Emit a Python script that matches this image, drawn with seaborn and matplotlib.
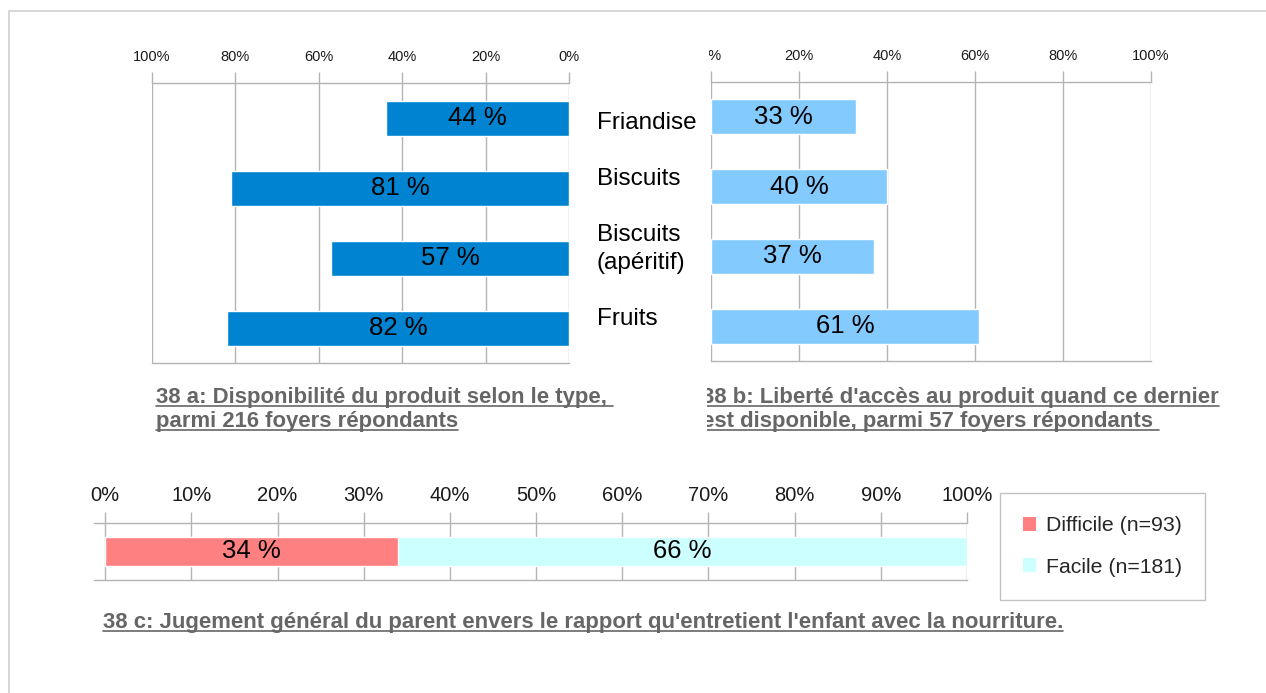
import matplotlib
matplotlib.use("Agg")
import matplotlib.pyplot as plt
import seaborn as sns
import pandas as pd
from matplotlib.transforms import Bbox, TransformedBbox, blended_transform_factory
from matplotlib.patches import Rectangle, Patch
from matplotlib.lines import Line2D

# ---- data -------------------------------------------------------------
products = ["Friandise", "Biscuits", "Biscuits\n(apéritif)", "Fruits"]
availability = [44, 81, 57, 82]          # 38 a
free_access = [33, 40, 37, 61]           # 38 b
judgement_labels = ["Difficile (n=93)", "Facile (n=181)"]
judgement_values = [34, 66]              # 38 c
top_ticks = [0, 20, 40, 60, 80, 100]
bottom_ticks = [0, 10, 20, 30, 40, 50, 60, 70, 80, 90, 100]

title_a = ["38 a: Disponibilité du produit selon le type, ",
           "parmi 216 foyers répondants"]
title_b = ["38 b: Liberté d'accès au produit quand ce dernier",
           "est disponible, parmi 57 foyers répondants "]
title_c = ("38 c: Jugement général du parent envers le rapport "
           "qu'entretient l'enfant avec la nourriture.")

# ---- style ------------------------------------------------------------
DARK_BLUE = "#0084d1"
LIGHT_BLUE = "#83caff"
RED = "#ff8080"
CYAN = "#ccffff"
GRID = "#b3b3b3"
TITLE_GRAY = "#666666"

W, H = 1266, 693
sns.set_theme(style="white")
plt.rcParams["font.family"] = ["Liberation Sans", "DejaVu Sans"]

fig = plt.figure(figsize=(W / 100, H / 100), dpi=100)
fig.patch.set_facecolor("white")


def px_axes(x0, y0, x1, y1):
    """Axes placed by pixel box (top-left origin)."""
    return fig.add_axes([x0 / W, 1 - y1 / H, (x1 - x0) / W, (y1 - y0) / H])


def style_axis(ax, ticks, labelsize, pad):
    ax.xaxis.tick_top()
    ax.set_xticks(ticks)
    ax.set_xticklabels([f"{t}%" for t in ticks])
    ax.tick_params(axis="x", which="major", direction="out", length=8, width=1,
                   color=GRID, pad=pad, labelsize=labelsize, labelcolor="#1a1a1a",
                   top=True, bottom=False)
    ax.set_yticks([])
    ax.set_xlabel("")
    ax.set_ylabel("")
    ax.grid(True, axis="x", color=GRID, lw=1)
    ax.set_axisbelow(True)
    for side in ("left", "right"):
        ax.spines[side].set_visible(False)
    for side in ("top", "bottom"):
        ax.spines[side].set_color(GRID)
        ax.spines[side].set_linewidth(1)
    ax.set_facecolor("none")


df = pd.DataFrame({"produit": products,
                   "disponible": availability,
                   "acces": free_access})

# ---- 38 a : availability (mirrored axis) ------------------------------
ax_a = px_axes(152, 83, 569, 363)
sns.barplot(data=df, x="disponible", y="produit", orient="h", color=DARK_BLUE,
            saturation=1, width=0.5, ax=ax_a)
ax_a.set_xlim(100, 0)
style_axis(ax_a, top_ticks, 10.5, 5.5)
ax_a.bar_label(ax_a.containers[0], labels=[f"{v} %" for v in availability],
               label_type="center", fontsize=18.5, color="black")

# ---- 38 b : free access -----------------------------------------------
ax_b = px_axes(711, 82, 1151, 361)
sns.barplot(data=df, x="acces", y="produit", orient="h", color=LIGHT_BLUE,
            saturation=1, width=0.5, ax=ax_b)
ax_b.set_xlim(0, 100)
style_axis(ax_b, top_ticks, 10.5, 5.5)
ax_b.bar_label(ax_b.containers[0], labels=[f"{v} %" for v in free_access],
               label_type="center", fontsize=18.5, color="black")

# region of the right-hand chart object: its texts are cut at its left edge
clip_b = TransformedBbox(Bbox.from_extents(707 / W, 0, 1, 1), fig.transFigure)
clip_tick = TransformedBbox(Bbox.from_extents(709 / W, 0, 1, 1), fig.transFigure)
first_label = ax_b.get_xticklabels()[0]
first_label.set_clip_box(clip_tick)
first_label.set_clip_on(True)

# shared category names between the two panels
# (baseline of the last line, shift in pixels from the bar centre, down positive)
name_offsets = [12, -2, 13, -1]
cat_tf = blended_transform_factory(fig.transFigure, ax_b.transData)
for i, (name, off) in enumerate(zip(products, name_offsets)):
    ax_b.annotate(name, xy=(597 / W, i), xycoords=cat_tf,
                  xytext=(0, -off), textcoords="offset pixels",
                  ha="left", va="baseline", fontsize=17.5, color="black",
                  linespacing=1.35, annotation_clip=False)

# ---- 38 c : stacked general judgement ---------------------------------
ax_c = px_axes(94, 523, 967, 580)
cumulative = pd.Series(judgement_values).cumsum().tolist()
row = ["ensemble"]
# draw from the outermost cumulative segment inward
for label, total, color in reversed(list(zip(judgement_labels, cumulative,
                                             [RED, CYAN]))):
    sns.barplot(x=[total], y=row, orient="h", color=color, saturation=1,
                width=0.51, ax=ax_c)
ax_c.set_xlim(-1.3, 100)
style_axis(ax_c, bottom_ticks, 14.5, 5)
starts = [0] + cumulative[:-1]
for start, val in zip(starts, judgement_values):
    ax_c.text(start + val / 2, 0, f"{val} %", ha="center", va="center",
              fontsize=18.5, color="black")

handles = [Patch(facecolor=RED, edgecolor="none"),
           Patch(facecolor=CYAN, edgecolor="none")]
leg = fig.legend(handles, judgement_labels, loc="upper left",
                 bbox_to_anchor=(1000 / W, 1 - 493 / H),
                 bbox_transform=fig.transFigure, frameon=True, fancybox=False,
                 edgecolor=GRID, fontsize=15.3, handlelength=0.6,
                 handleheight=0.6, handletextpad=0.45, labelspacing=1.05,
                 borderpad=1.1, borderaxespad=0)
leg.get_frame().set_linewidth(1)

# ---- titles (bold, grey, underlined) ----------------------------------
TITLE_FONT = dict(family=["Liberation Sans", "DejaVu Sans"], weight="bold",
                  size=15.9, color=TITLE_GRAY)

titles = []   # (text artist, baseline px, clip box)
for line, base in zip(title_a, [403, 427]):
    t = fig.text(156 / W, 1 - base / H, line, ha="left", va="baseline",
                 **TITLE_FONT)
    titles.append((t, base, None))
for line, base in zip(title_b, [403, 427]):
    t = fig.text(702 / W, 1 - base / H, line, ha="left", va="baseline",
                 **TITLE_FONT)
    t.set_clip_box(clip_b)
    t.set_clip_on(True)
    titles.append((t, base, clip_b))
t = fig.text(103 / W, 1 - 628 / H, title_c, ha="left", va="baseline",
             **TITLE_FONT)
titles.append((t, 628, None))

fig.canvas.draw()
renderer = fig.canvas.get_renderer()
for t, base, clip in titles:
    bb = t.get_window_extent(renderer)
    ul = Line2D([bb.x0 / W, bb.x1 / W], [1 - (base + 3) / H] * 2,
                transform=fig.transFigure, color=TITLE_GRAY, lw=1.2)
    if clip is not None:
        ul.set_clip_box(clip)
        ul.set_clip_on(True)
    fig.add_artist(ul)

# page frame
fig.add_artist(Rectangle((8.5 / W, -0.5), 2.0, 1.5 - 10.5 / H,
                         transform=fig.transFigure, fill=False,
                         edgecolor="#d0d0d0", lw=1.2))

fig.savefig("out.png", dpi=100, facecolor="white")
